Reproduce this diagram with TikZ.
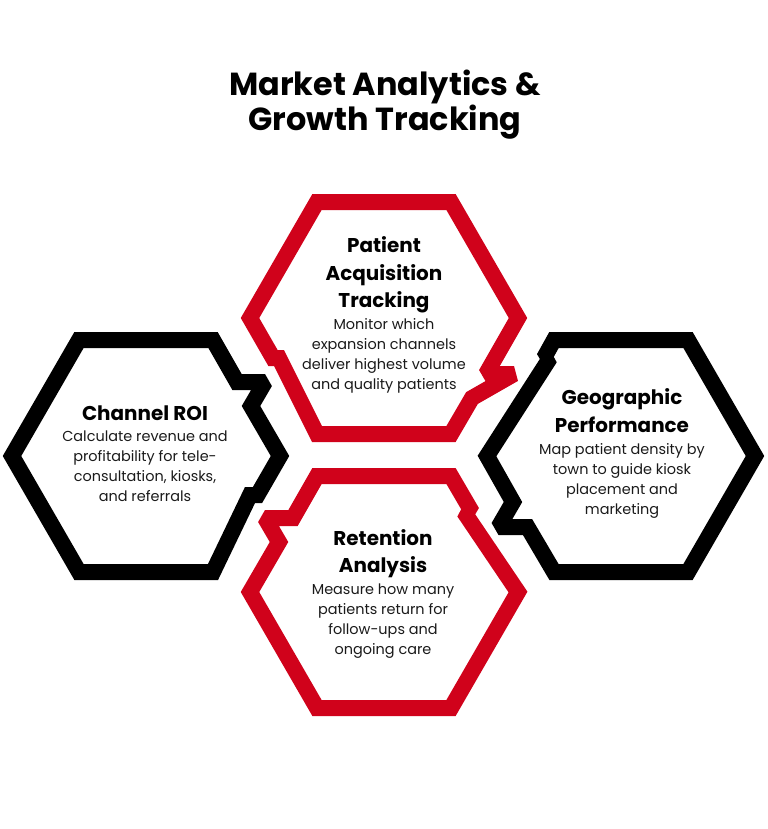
\documentclass[tikz,border=0pt]{standalone}
\usepackage{fontspec}
\setmainfont{Poppins}
\usetikzlibrary{positioning}
\definecolor{cred}{HTML}{D0021B}
\definecolor{cblack}{HTML}{000000}
\definecolor{ctext}{HTML}{1A1A1A}
\tikzset{
  every picture/.style={line join=miter, miter limit=1.5},
  hexline/.style={draw=#1, line width=16bp},
  hexline/.default=cblack,
  title/.style={font=\fontsize{32}{35}\selectfont\bfseries, align=center, inner sep=0pt, anchor=base},
  head/.style={font=\fontsize{20}{27.5}\selectfont\bfseries, align=center, inner sep=0pt, anchor=base},
  body/.style={font=\fontsize{14.5}{20}\selectfont, text=ctext, align=center, inner sep=0pt, anchor=base},
}

\begin{document}
\begin{tikzpicture}[x=1bp, y=-1bp]
  \useasboundingbox (0,0) rectangle (768,829);
  \node[title] (maintitle) at (385,130) {Market Analytics \&\\Growth Tracking};

  \draw[hexline=cred] (250,318) -- (317,202) -- (451,202) -- (518,318)
    -- (486,374) -- (514,374) -- (472,398) -- (451,434) -- (317,434)
    -- (279,358) -- (273,358) -- cycle;
  \draw[hexline] (12,456) -- (79,340) -- (213,340) -- (237,382)
    -- (265,382) -- (251,406) -- (280,456) -- (257.5,495) -- (250,495)
    -- (213,572) -- (79,572) -- cycle;
  \draw[hexline] (487,456) -- (550,358) -- (544,358) -- (554,340)
    -- (688,340) -- (755,456) -- (688,572) -- (554,572) -- (527.5,527)
    -- (498.5,527) -- (513,502) -- cycle;
  \draw[hexline=cred] (250,592) -- (279,542) -- (265,518) -- (293,518)
    -- (317,476) -- (451,476) -- (472,512) -- (464,512) -- (518,592)
    -- (451,708) -- (317,708) -- cycle;

  \node[head] (acqhead) at (384,307.5) {Patient\\Acquisition\\Tracking};
  \node[body] (acqbody) at (384,389) {Monitor which\\expansion channels\\deliver highest volume\\and quality patients};
  \node[head] (roihead) at (145,420) {Channel ROI};
  \node[body] (roibody) at (145,501.5) {Calculate revenue and\\profitability for tele-\\consultation, kiosks,\\and referrals};
  \node[head] (geohead) at (622,432) {Geographic\\Performance};
  \node[body] (geobody) at (622,514) {Map patient density by\\town to guide kiosk\\placement and\\marketing};
  \node[head] (rethead) at (383,572.5) {Retention\\Analysis};
  \node[body] (retbody) at (383,654.5) {Measure how many\\patients return for\\follow-ups and\\ongoing care};
\end{tikzpicture}
\end{document}
